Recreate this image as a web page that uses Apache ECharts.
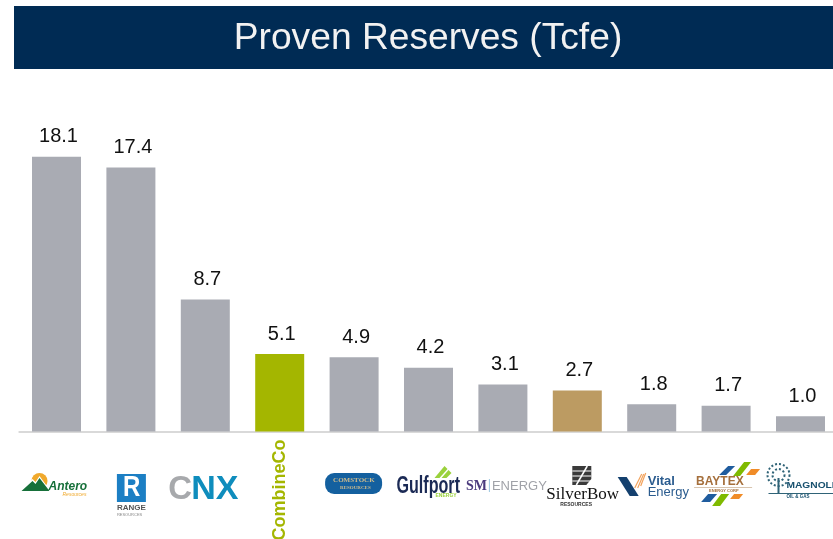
<!DOCTYPE html>
<html>
<head>
<meta charset="utf-8">
<title>Proven Reserves</title>
<style>
html, body { margin: 0; padding: 0; background: #fff; overflow: hidden; }
#chart { width: 840px; height: 539px; }
</style>
<script src="https://cdn.jsdelivr.net/npm/echarts@6/dist/echarts.min.js"></script>
</head>
<body>
<div id="chart"></div>
<script>
var categories = ['Antero', 'Range', 'CNX', 'CombineCo', 'Comstock', 'Gulfport', 'SM Energy', 'SilverBow', 'Vital Energy', 'Baytex', 'Magnolia'];
var reserves = [18.1, 17.4, 8.7, 5.1, 4.9, 4.2, 3.1, 2.7, 1.8, 1.7, 1.0];
var titleText = 'Proven Reserves (Tcfe)';

var FONT = '"Liberation Sans", Arial, sans-serif';
var SERIF = '"Liberation Serif", "Times New Roman", serif';
var barColors = { 'CombineCo': '#a4b600', 'SilverBow': '#bc9b62' };

function txt(x, y, text, size, color, extra) {
	var style = {
		x: x, y: y, text: text,
		fontFamily: FONT, fontSize: size, fill: color,
		textAlign: 'left', textVerticalAlign: 'middle'
	};
	for (var k in (extra || {})) style[k] = extra[k];
	return { type: 'text', style: style };
}
function squeezed(x, y, text, size, color, extra, scale) {
	var el = txt(0, 0, text, size, color, extra);
	el.x = x;
	el.y = y;
	el.scaleX = scale;
	return el;
}
function poly(points, color) {
	return { type: 'polygon', shape: { points: points }, style: { fill: color } };
}
function stroke(x1, y1, x2, y2, color, w) {
	return { type: 'line', shape: { x1: x1, y1: y1, x2: x2, y2: y2 }, style: { stroke: color, lineWidth: w } };
}

/* logos, x is relative to the bar centre */
var logos = {
	'Antero': [
		{ type: 'circle', shape: { cx: -17, cy: 481, r: 8 }, style: { fill: '#f0a92c' } },
		poly([[-35, 491], [-24, 479], [-21, 482], [-17, 476], [-6, 491]], '#ffffff'),
		poly([[-35, 491], [-24, 481], [-21, 484], [-17, 478], [-7, 491]], '#17703a'),
		txt(-8, 487, 'Antero', 12, '#17703a', { fontWeight: 'bold', fontStyle: 'italic' }),
		txt(6, 495, 'Resources', 5, '#f0a92c', { fontStyle: 'italic' })
	],
	'Range': [
		{ type: 'rect', shape: { x: -14, y: 474, width: 29, height: 28 }, style: { fill: '#1c7fc4' } },
		squeezed(-8, 488, 'R', 30, '#fff', { fontWeight: 'bold' }, 0.8),
		txt(-14, 508, 'RANGE', 8, '#555', { fontWeight: 'bold' }),
		txt(-14, 515, 'RESOURCES', 4, '#888')
	],
	'CNX': [
		txt(-37, 490, 'C', 33, '#a7a9ac', { fontWeight: 'bold' }),
		txt(-14, 490, 'NX', 34, '#0f8dbd', { fontWeight: 'bold' })
	],
	'Comstock': [
		{ type: 'rect', shape: { x: -29, y: 473, width: 57, height: 21, r: 9 }, style: { fill: '#14609f' } },
		txt(-21, 480, 'COMSTOCK', 7, '#cdbb8c', { fontFamily: SERIF, fontWeight: 'bold' }),
		txt(-14, 488, 'RESOURCES', 5, '#cdbb8c', { fontFamily: SERIF, fontWeight: 'bold' })
	],
	'Gulfport': [
		poly([[6, 478], [16, 466], [19, 469], [11, 478]], '#9ad13c'),
		poly([[13, 478], [20, 470], [23, 473], [18, 478]], '#9ad13c'),
		squeezed(-32, 487, 'Gulfport', 23, '#1b2a55', { fontWeight: 'bold' }, 0.7),
		txt(7, 496, 'ENERGY', 5, '#9ad13c', { fontWeight: 'bold', letterSpacing: 1 })
	],
	'SM Energy': [
		txt(-37, 486, 'SM', 14, '#4b3a7d', { fontFamily: SERIF, fontWeight: 'bold' }),
		{ type: 'rect', shape: { x: -14, y: 479, width: 1, height: 13 }, style: { fill: '#9cc7e0' } },
		txt(-11, 486, 'ENERGY', 13, '#a0a2a8', { letterSpacing: 1 })
	],
	'SilverBow': [
		poly([[-5, 466], [14, 466], [14, 479], [9, 485], [-5, 485]], '#3a3a3a'),
		stroke(-5, 471, 14, 471, '#ffffff', 1),
		stroke(-5, 476, 14, 476, '#ffffff', 1),
		stroke(-5, 481, 14, 481, '#ffffff', 1),
		stroke(-1, 485, 10, 466, '#ffffff', 1.5),
		txt(-31, 495, 'SilverBow', 17, '#111', { fontFamily: SERIF }),
		txt(-17, 505, 'RESOURCES', 5, '#333', { letterSpacing: 1.5, fontWeight: 'bold' })
	],
	'Vital Energy': [
		poly([[-34, 477], [-25, 477], [-13, 496], [-22, 496]], '#14406e'),
		stroke(-17, 488, -10, 474, '#f2a25c', 1.2),
		stroke(-14, 488, -8, 474, '#f2a25c', 1.2),
		stroke(-11, 486, -6, 473, '#f2a25c', 1.2),
		txt(-4, 481, 'Vital', 13, '#2b5c8f', { fontWeight: 'bold' }),
		txt(-4, 492, 'Energy', 13, '#2b5c8f')
	],
	'Baytex': [
		poly([[-7, 475], [2, 466], [9, 466], [0, 475]], '#1f5c9e'),
		poly([[7, 476], [18, 462], [25, 462], [14, 476]], '#7fba00'),
		poly([[20, 475], [25, 469], [34, 469], [29, 475]], '#f08c28'),
		txt(-30, 482, 'BAYTEX', 12, '#a56f3c', { fontWeight: 'bold', letterSpacing: 2 }),
		{ type: 'rect', shape: { x: -32, y: 487, width: 58, height: 1 }, style: { fill: '#d8c4ae' } },
		txt(-17, 491, 'ENERGY CORP', 4, '#a56f3c', { fontWeight: 'bold' }),
		poly([[-25, 502], [-18, 494], [-9, 494], [-16, 502]], '#1f5c9e'),
		poly([[-14, 506], [-5, 494], [3, 494], [-6, 506]], '#7fba00'),
		poly([[4, 499], [8, 494], [17, 494], [13, 499]], '#f08c28')
	],
	'Magnolia': [
		{ type: 'circle', shape: { cx: -22, cy: 475, r: 11 }, style: { fill: '#fff', stroke: '#2f6377', lineWidth: 2, lineDash: [2, 2] } },
		{ type: 'circle', shape: { cx: -22, cy: 475, r: 6 }, style: { fill: '#fff', stroke: '#2f6377', lineWidth: 2, lineDash: [2, 2] } },
		{ type: 'rect', shape: { x: -23, y: 478, width: 2, height: 15 }, style: { fill: '#2f6377' } },
		{ type: 'rect', shape: { x: -32, y: 493, width: 70, height: 1 }, style: { fill: '#2f6377' } },
		squeezed(-14, 486, 'MAGNOLIA', 8.5, '#17506e', { fontWeight: 'bold' }, 1.2),
		txt(-14, 497, 'OIL & GAS', 4.5, '#17506e', { letterSpacing: 4, fontWeight: 'bold' })
	]
};

var chart = echarts.init(document.getElementById('chart'));
chart.setOption({
	animation: false,
	backgroundColor: '#ffffff',
	title: {
		text: titleText,
		left: 423,
		top: 15,
		textAlign: 'center',
		textStyle: { color: '#f2f2f2', fontFamily: FONT, fontSize: 37.2, fontWeight: 'normal' }
	},
	grid: { left: 19.3, top: 128, width: 818.4, height: 303.5, containLabel: false },
	xAxis: {
		type: 'category',
		data: categories,
		axisLine: { lineStyle: { color: '#d9d9d9', width: 2 } },
		axisTick: { show: false },
		axisLabel: { show: false }
	},
	yAxis: { type: 'value', min: 0, max: 20, show: false, splitLine: { show: false } },
	series: [{
		type: 'bar',
		barWidth: 49,
		data: reserves.map(function(v, i) {
			return { value: v, itemStyle: { color: barColors[categories[i]] || '#a9abb3' } };
		}),
		label: {
			show: true,
			position: 'top',
			distance: 10,
			offset: [2, 0],
			color: '#111111',
			fontFamily: FONT,
			fontSize: 20,
			formatter: function(p) { return p.value.toFixed(1); }
		}
	}]
});

var graphics = [{
	type: 'rect', z: -1,
	shape: { x: 14, y: 6, width: 826, height: 63 },
	style: { fill: '#002b54' }
}];
categories.forEach(function(name) {
	var cx = chart.convertToPixel({ xAxisIndex: 0 }, name);
	if (name === 'CombineCo') {
		graphics.push({
			type: 'text',
			x: cx, y: 490, rotation: Math.PI / 2,
			style: {
				text: name, fontFamily: FONT, fontSize: 18, fontWeight: 'bold', fill: '#a4b600',
				textAlign: 'center', textVerticalAlign: 'middle'
			}
		});
	} else {
		graphics.push({ type: 'group', x: cx, y: 0, children: logos[name] });
	}
});
chart.setOption({ graphic: graphics });
</script>
</body>
</html>
